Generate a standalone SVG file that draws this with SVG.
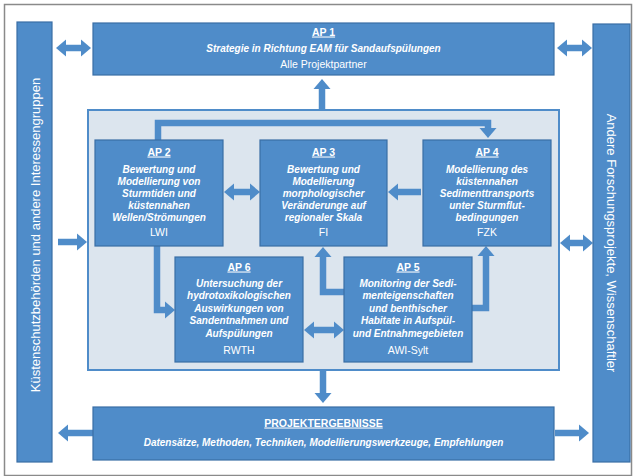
<svg xmlns="http://www.w3.org/2000/svg" width="635" height="476" viewBox="0 0 635 476">
<style>
  .bg{fill:#ffffff}
  .frame{fill:none;stroke:#8a8a8a;stroke-width:1.5}
  .box{fill:#4f8cc9;stroke:#3a6ea6;stroke-width:1.2}
  .panel{fill:#dce5ee;stroke:#4f8cc9;stroke-width:2}
  .c{fill:none;stroke:#4f8cc9;stroke-width:6.5;stroke-linejoin:miter}
  text{font-family:"Liberation Sans",Arial,sans-serif;fill:#ffffff;text-anchor:middle}
  .t{font-size:10.5px;font-weight:bold;text-decoration:underline}
  .d{font-size:10px;font-weight:bold;font-style:italic}
  .o{font-size:10.5px}
  .side{font-size:13px}
</style>
<defs>
  <marker id="ah" markerUnits="userSpaceOnUse" markerWidth="12" markerHeight="20" viewBox="0 -10 12 20" refX="0" refY="0" orient="auto-start-reverse" overflow="visible">
    <path d="M0,-8.5 L10,0 L0,8.5 Z" fill="#4f8cc9"/>
  </marker>
</defs>
<rect class="bg" x="0" y="0" width="635" height="476"/>
<rect class="frame" x="4.5" y="4.5" width="627" height="471"/>

<g id="panel">
  <rect class="panel" x="88" y="110" width="471" height="260"/>
</g>

<g id="connectors">
  <path class="c" d="M66,48 H81" marker-start="url(#ah)" marker-end="url(#ah)"/>
  <path class="c" d="M567,48 H582" marker-start="url(#ah)" marker-end="url(#ah)"/>
  <path class="c" d="M322,110 V89" marker-end="url(#ah)"/>
  <path class="c" d="M158,140 V123 H488 V128" marker-end="url(#ah)"/>
  <path class="c" d="M234,192 H250" marker-start="url(#ah)" marker-end="url(#ah)"/>
  <path class="c" d="M421,192 H398" marker-end="url(#ah)"/>
  <path class="c" d="M58,242 H77" marker-end="url(#ah)"/>
  <path class="c" d="M570,243 H583" marker-start="url(#ah)" marker-end="url(#ah)"/>
  <path class="c" d="M157,246 V310 H165" marker-end="url(#ah)"/>
  <path class="c" d="M344,292 H323 V257" marker-end="url(#ah)"/>
  <path class="c" d="M472,308 H486 V256" marker-end="url(#ah)"/>
  <path class="c" d="M314,330 H334" marker-start="url(#ah)" marker-end="url(#ah)"/>
  <path class="c" d="M323,370 V393" marker-end="url(#ah)"/>
  <path class="c" d="M93,433 H68" marker-end="url(#ah)"/>
  <path class="c" d="M555,433 H579" marker-end="url(#ah)"/>
</g>

<g id="left">
  <rect class="box" x="17" y="22" width="35" height="440"/>
  <text class="side" transform="translate(39.5,235) rotate(-90)">Küstenschutzbehörden und andere Interessengruppen</text>
</g>

<g id="right">
  <rect class="box" x="593" y="24" width="37" height="438"/>
  <text class="side" transform="translate(607,243) rotate(90)">Andere Forschungsprojekte, Wissenschaftler</text>
</g>

<g id="ap1">
  <rect class="box" x="93" y="23" width="461" height="52"/>
  <text class="t" x="323.5" y="35.5">AP 1</text>
  <text class="d" x="323.5" y="51.5">Strategie in Richtung EAM für Sandaufspülungen</text>
  <text class="o" x="323.5" y="68">Alle Projektpartner</text>
</g>

<g id="ap2">
  <rect class="box" x="95" y="140" width="128" height="106"/>
  <text class="t" x="159" y="155.5">AP 2</text>
  <text class="d" x="159" y="172.5">Bewertung und</text>
  <text class="d" x="159" y="184.7">Modellierung von</text>
  <text class="d" x="159" y="196.9">Sturmtiden und</text>
  <text class="d" x="159" y="209.1">küstennahen</text>
  <text class="d" x="159" y="221.3">Wellen/Strömungen</text>
  <text class="o" x="159" y="236">LWI</text>
</g>

<g id="ap3">
  <rect class="box" x="260" y="140" width="127" height="106"/>
  <text class="t" x="323.5" y="155.5">AP 3</text>
  <text class="d" x="323.5" y="172.5">Bewertung und</text>
  <text class="d" x="323.5" y="184.7">Modellierung</text>
  <text class="d" x="323.5" y="196.9">morphologischer</text>
  <text class="d" x="323.5" y="209.1">Veränderunge auf</text>
  <text class="d" x="323.5" y="221.3">regionaler Skala</text>
  <text class="o" x="323.5" y="236">FI</text>
</g>

<g id="ap4">
  <rect class="box" x="423" y="140" width="128" height="106"/>
  <text class="t" x="487" y="155.5">AP 4</text>
  <text class="d" x="487" y="172.5">Modellierung des</text>
  <text class="d" x="487" y="184.7">küstennahen</text>
  <text class="d" x="487" y="196.9">Sedimenttransports</text>
  <text class="d" x="487" y="209.1">unter Sturmflut-</text>
  <text class="d" x="487" y="221.3">bedingungen</text>
  <text class="o" x="487" y="236">FZK</text>
</g>

<g id="ap6">
  <rect class="box" x="175" y="257" width="128" height="105"/>
  <text class="t" x="239" y="270.5">AP 6</text>
  <text class="d" x="239" y="286.5">Untersuchung der</text>
  <text class="d" x="239" y="299">hydrotoxikologischen</text>
  <text class="d" x="239" y="311.5">Auswirkungen von</text>
  <text class="d" x="239" y="324">Sandentnahmen und</text>
  <text class="d" x="239" y="336.5">Aufspülungen</text>
  <text class="o" x="239" y="354">RWTH</text>
</g>

<g id="ap5">
  <rect class="box" x="344" y="257" width="128" height="105"/>
  <text class="t" x="408" y="270.5">AP 5</text>
  <text class="d" x="408" y="286.5">Monitoring der Sedi-</text>
  <text class="d" x="408" y="299">menteigenschaften</text>
  <text class="d" x="408" y="311.5">und benthischer</text>
  <text class="d" x="408" y="324">Habitate in Aufspül-</text>
  <text class="d" x="408" y="336.5">und Entnahmegebieten</text>
  <text class="o" x="408" y="354">AWI-Sylt</text>
</g>

<g id="ergebnisse">
  <rect class="box" x="93" y="407" width="461" height="53"/>
  <text class="t" x="323.5" y="426.5">PROJEKTERGEBNISSE</text>
  <text class="d" x="323.5" y="445.5">Datensätze, Methoden, Techniken, Modellierungswerkzeuge, Empfehlungen</text>
</g>
</svg>
